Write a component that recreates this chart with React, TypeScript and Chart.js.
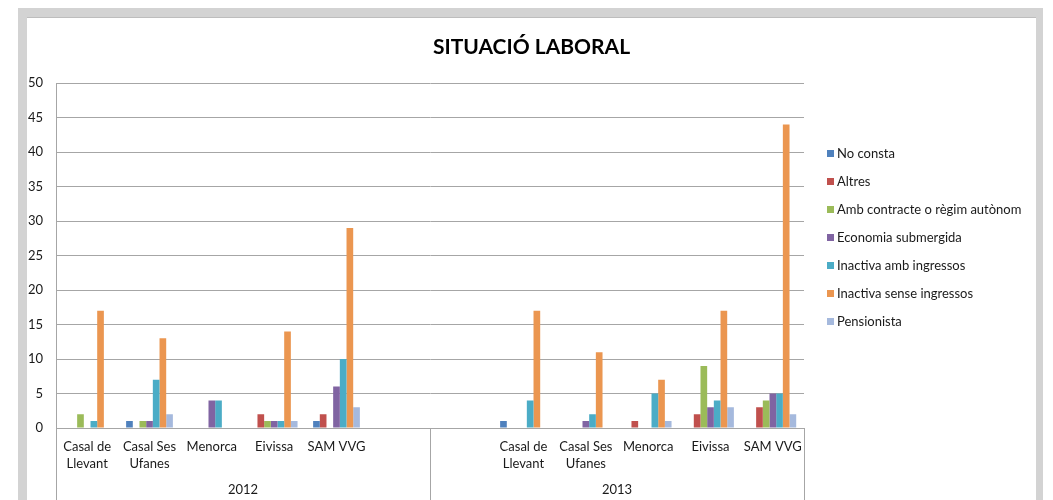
import React, { useEffect, useRef } from 'react';
import { Chart, registerables } from 'chart.js';

Chart.register(...registerables);

const categories: (string | string[])[] = [
  ['Casal de', 'Llevant'], ['Casal Ses', 'Ufanes'], 'Menorca', 'Eivissa', 'SAM VVG', '',
  '', ['Casal de', 'Llevant'], ['Casal Ses', 'Ufanes'], 'Menorca', 'Eivissa', 'SAM VVG',
];
const years = ['2012', '2013'];

const noConsta = [0, 1, 0, 0, 1, null, null, 1, 0, 0, 0, 0];
const altres = [0, 0, 0, 2, 2, null, null, 0, 0, 1, 2, 3];
const ambContracte = [2, 1, 0, 1, 0, null, null, 0, 0, 0, 9, 4];
const economiaSubmergida = [0, 1, 4, 1, 6, null, null, 0, 1, 0, 3, 5];
const inactivaAmb = [1, 7, 4, 1, 10, null, null, 4, 2, 5, 4, 5];
const inactivaSense = [17, 13, 0, 14, 29, null, null, 17, 11, 7, 17, 44];
const pensionista = [0, 2, 0, 1, 3, null, null, 0, 0, 1, 3, 2];

const seriesNames = [
  'No consta', 'Altres', 'Amb contracte o règim autònom', 'Economia submergida',
  'Inactiva amb ingressos', 'Inactiva sense ingressos', 'Pensionista',
];
const seriesValues = [noConsta, altres, ambContracte, economiaSubmergida, inactivaAmb, inactivaSense, pensionista];
const seriesColors = ['#4F81BD', '#C0504D', '#9BBB59', '#8064A2', '#4BACC6', '#EB9650', '#A5B9DD'];

const FONT = 'Lato, "Open Sans", sans-serif';

const sideLegend = {
  id: 'sideLegend',
  afterDraw(chart: any) {
    const { ctx, chartArea } = chart;
    ctx.save();
    ctx.font = `13px ${FONT}`;
    ctx.textBaseline = 'middle';
    ctx.textAlign = 'left';
    chart.data.datasets.forEach((ds: any, i: number) => {
      const y = chartArea.top + 70 + i * 28;
      const x = chartArea.right + 23;
      ctx.fillStyle = ds.backgroundColor;
      ctx.fillRect(x, Math.round(y - 3.5), 7, 7);
      ctx.fillStyle = '#1a1a1a';
      ctx.fillText(ds.label, x + 10, y + 0.5);
    });
    ctx.restore();
  },
};

const separators = {
  id: 'separators',
  afterDraw(chart: any) {
    const { ctx, chartArea } = chart;
    const xs = chart.scales.x;
    const pts = [xs.left, (xs.left + xs.right) / 2, xs.right];
    ctx.save();
    ctx.strokeStyle = '#a6a6a6';
    ctx.lineWidth = 1;
    pts.forEach((p) => {
      const px = Math.round(p) + 0.5;
      ctx.beginPath();
      ctx.moveTo(px, chartArea.bottom);
      ctx.lineTo(px, chart.height);
      ctx.stroke();
    });
    ctx.restore();
  },
};

export default function App() {
  const ref = useRef<HTMLCanvasElement>(null);
  useEffect(() => {
    if (!ref.current) return;
    const chart = new Chart(ref.current, {
      type: 'bar',
      data: {
        labels: categories,
        datasets: seriesNames.map((name, i) => ({
          label: name,
          data: seriesValues[i],
          backgroundColor: seriesColors[i],
          borderWidth: 0,
          xAxisID: 'x',
          yAxisID: 'y',
          categoryPercentage: 0.75,
          barPercentage: 1,
        })),
      },
      options: {
        animation: false,
        responsive: false,
        devicePixelRatio: 1,
        layout: { padding: 0 },
        plugins: {
          legend: { display: false },
          tooltip: { enabled: false },
          title: {
            display: true,
            text: 'SITUACIÓ LABORAL',
            color: '#000',
            font: { family: FONT, size: 21, weight: 'bold' },
            padding: { top: 17, bottom: 23 },
          },
        },
        scales: {
          y: {
            min: 0,
            max: 50,
            ticks: { stepSize: 5, padding: 13, color: '#1a1a1a', font: { family: FONT, size: 13 } },
            grid: { color: '#a6a6a6', drawTicks: false },
            border: { display: true, color: '#a6a6a6' },
            afterFit: (s: any) => { s.width = 29; },
          },
          yR: {
            type: 'linear',
            position: 'right',
            display: true,
            ticks: { display: false },
            grid: { display: false, drawTicks: false },
            border: { display: false },
            afterFit: (s: any) => { s.width = 232; },
          },
          x: {
            position: 'bottom',
            offset: true,
            grid: { display: false, drawTicks: false },
            border: { display: false },
            ticks: {
              autoSkip: false,
              maxRotation: 0,
              padding: 10,
              color: '#1a1a1a',
              font: { family: FONT, size: 13, lineHeight: 1.3 },
            },
            afterFit: (s: any) => { s.height = 44; },
          },
          x2: {
            type: 'category',
            labels: years,
            position: 'bottom',
            offset: true,
            grid: { display: false, drawTicks: false },
            border: { display: false },
            ticks: { padding: 10, color: '#1a1a1a', font: { family: FONT, size: 13 } },
            afterFit: (s: any) => { s.height = 28; },
          },
        },
      },
      plugins: [sideLegend, separators],
    } as any);
    return () => chart.destroy();
  }, []);

  return (
    <div style={{ marginLeft: 10, background: '#d3d3d3', padding: '9px 7px 0 9px', width: 1009 }}>
      <div style={{ background: '#fff', borderTop: '1px solid #bdbdbd', width: 1009, height: 483 }}>
        <canvas ref={ref} width={1009} height={482} style={{ display: 'block' }} />
      </div>
    </div>
  );
}
